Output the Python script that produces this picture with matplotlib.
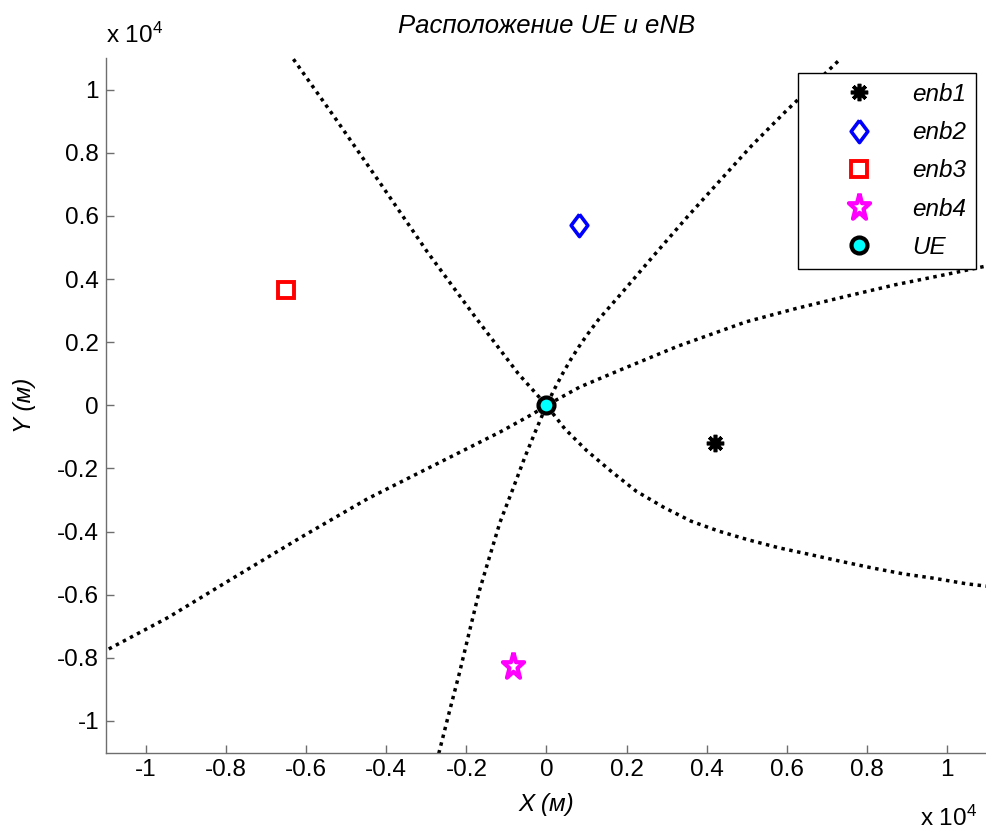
import numpy as np
import matplotlib
matplotlib.use("Agg")
import matplotlib.pyplot as plt

plt.rcParams["font.family"] = ["Liberation Sans", "DejaVu Sans"]
plt.rcParams["mathtext.fontset"] = "custom"
plt.rcParams["mathtext.rm"] = "Liberation Sans"

# base stations and UE (metres)
enb_labels = ["enb1", "enb2", "enb3", "enb4"]
enb_x = [4210, 810, -6500, -830]
enb_y = [-1200, 5710, 3660, -8250]
ue_x = [0]
ue_y = [0]

# TDOA hyperbolas, points
hyp1_x = [-6320, -5260, -4120, -2975, -1780, -705, 0, 455, 1000, 1620, 2240,
          2920, 3610, 4300, 5035, 5805, 6575, 7340, 8125, 8910, 9680, 10490, 11000]
hyp1_y = [10970, 9070, 6980, 4860, 2800, 1005, 0, -740, -1430, -2095, -2720,
          -3225, -3670, -3985, -4260, -4515, -4725, -4940, -5150, -5340, -5480, -5655, -5730]

hyp2_x = [-2690, -2430, -2170, -1920, -1675, -1425, -1160, -855, -540, -265, 0,
          200, 400, 600, 800, 1000, 1300, 1865, 2650, 3480, 4305, 5135, 5965, 7330]
hyp2_y = [-11030, -9730, -8460, -7140, -5870, -4810, -3700, -2700, -1640, -790, 0,
          520, 1000, 1440, 1840, 2210, 2720, 3540, 4705, 5920, 7085, 8245, 9305, 10965]

hyp3_x = [-10930, -9440, -7790, -6130, -4470, -2820, -1160, -330, 0,
          830, 1820, 3270, 4980, 6220, 7465, 8705, 9950, 11000]
hyp3_y = [-7720, -6715, -5445, -4180, -2960, -1905, -845, -265, 0,
          580, 1110, 1870, 2645, 3065, 3450, 3820, 4140, 4420]

tick_vals = [-10000, -8000, -6000, -4000, -2000, 0, 2000, 4000, 6000, 8000, 10000]

fig = plt.figure(figsize=(9.87, 8.32), dpi=100)
ax = fig.add_axes([106 / 987, 79.5 / 832, 881 / 987, 694.3 / 832])

for hx, hy in [(hyp1_x, hyp1_y), (hyp2_x, hyp2_y), (hyp3_x, hyp3_y)]:
    ax.plot(hx, hy, color="black", linestyle=(0, (1, 1.3)), linewidth=2.5, label="_nolegend_")

# marker shapes (MATLAB-like)
diamond = [(0, 1), (0.75, 0), (0, -1), (-0.75, 0), (0, 1)]
ang = np.pi / 2 + np.arange(10) * np.pi / 5
rad = np.where(np.arange(10) % 2 == 0, 1.0, 0.382)
star = list(zip(0.8 * rad * np.cos(ang), rad * np.sin(ang)))
star.append(star[0])

styles = [
    dict(marker=(8, 2, 0), color="black", markersize=12.5, markeredgewidth=2.6),
    dict(marker=diamond, color="#0000ff", markerfacecolor="none", markersize=16, markeredgewidth=2.6),
    dict(marker="s", color="#ff0000", markerfacecolor="none", markersize=12, markeredgewidth=2.8),
    dict(marker=star, color="#ff00ff", markerfacecolor="none", markersize=20, markeredgewidth=3.0),
]
for i in range(len(enb_labels)):
    ax.plot(enb_x[i], enb_y[i], linestyle="none", label=enb_labels[i], **styles[i])

ax.plot(ue_x, ue_y, linestyle="none", marker="o", markersize=11.5, markerfacecolor="#00ffff",
        markeredgecolor="black", markeredgewidth=3.0, label="UE")

ax.set_xlim(-11000, 11000)
ax.set_ylim(-11000, 11000)
ax.set_xticks(tick_vals)
ax.set_yticks(tick_vals)
ax.set_xticklabels([f"{v / 1e4:g}" for v in tick_vals])
ax.set_yticklabels([f"{v / 1e4:g}" for v in tick_vals])

for side in ["top", "right"]:
    ax.spines[side].set_visible(False)
for side in ["left", "bottom"]:
    ax.spines[side].set_color("#6e6e6e")
    ax.spines[side].set_linewidth(1.0)
ax.tick_params(direction="in", length=5.8, width=1.0, color="#6e6e6e",
               labelsize=17.5, labelcolor="black", pad=5)

ax.set_title("Расположение UE и eNB", fontsize=18.5, style="italic", pad=18.5)
ax.set_xlabel("X (м)", fontsize=17.5, style="italic", labelpad=8.5)
ax.set_ylabel("Y (м)", fontsize=17.5, style="italic", labelpad=15)

fig.text(106 / 987, 1 - 43 / 832, r"x $\mathregular{10^{4}}$", fontsize=17.5, ha="left", va="baseline")
fig.text(920 / 987, 1 - 826 / 832, r"x $\mathregular{10^{4}}$", fontsize=17.5, ha="left", va="baseline")

leg = ax.legend(loc="upper right", bbox_to_anchor=(976 / 987, 1 - 73 / 832),
                bbox_transform=fig.transFigure, borderaxespad=0, fancybox=False,
                edgecolor="black", framealpha=1, handlelength=4.2, handletextpad=0.1,
                labelspacing=0.63, prop=dict(size=17.5, style="italic"), borderpad=0.4)
leg.get_frame().set_linewidth(1.0)

fig.savefig("out.png", dpi=100)
